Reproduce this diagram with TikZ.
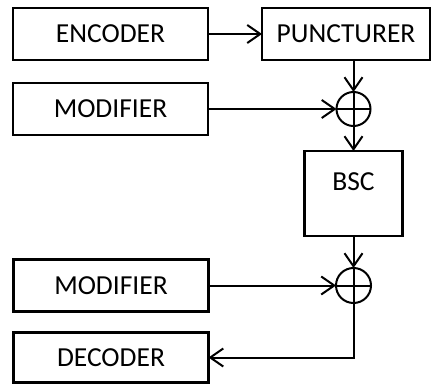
\documentclass[tikz,border=0pt]{standalone}
\usepackage{fontspec}
\setmainfont{Carlito}
\usetikzlibrary{arrows.meta,positioning}

\begin{document}
\begin{tikzpicture}[x=1pt, y=1pt,
  box/.style={draw, line width=2.6pt, inner sep=0pt, outer sep=0pt,
    minimum height=52pt, font=\fontsize{27.5}{32}\selectfont},
  sum/.style={draw, circle, line width=2pt, inner sep=0pt, outer sep=0pt,
    minimum size=#1, path picture={
      \draw[line width=2pt] (path picture bounding box.north) -- (path picture bounding box.south)
        (path picture bounding box.west) -- (path picture bounding box.east);}},
  arr/.style={line width=2pt, -{Straight Barb[length=13pt, width=18pt]}}]
\useasboundingbox (0,0) rectangle (436,-385);
\node[box, minimum width=195pt] (encoder) at (110.5,-34) {ENCODER};
\node[box, minimum width=168pt, right=54pt of encoder] (puncturer) {PUNCTURER};
\node[box, minimum width=195pt, below=23pt of encoder] (modifier1) {MODIFIER};
\node[sum=34pt, right=128.5pt of modifier1] (sum1) {};
\node[box, minimum width=98pt, minimum height=85pt, text height=18pt,
  text depth=24pt, below=25pt of sum1] (bsc) {BSC};
\node[sum=35pt, below=32pt of bsc] (sum2) {};
\node[box, minimum width=195pt, left=127.5pt of sum2] (modifier2) {MODIFIER};
\node[box, minimum width=195pt, minimum height=50pt, below=21pt of modifier2] (decoder) {DECODER};
\draw[arr] (encoder) -- (puncturer);
\draw[arr] (puncturer.south -| sum1) -- (sum1);
\draw[arr] (modifier1) -- (sum1);
\draw[arr] (sum1) -- (bsc);
\draw[arr] (bsc) -- (sum2);
\draw[arr] (modifier2) -- (sum2);
\draw[arr] (sum2) |- (decoder);
\end{tikzpicture}
\end{document}
